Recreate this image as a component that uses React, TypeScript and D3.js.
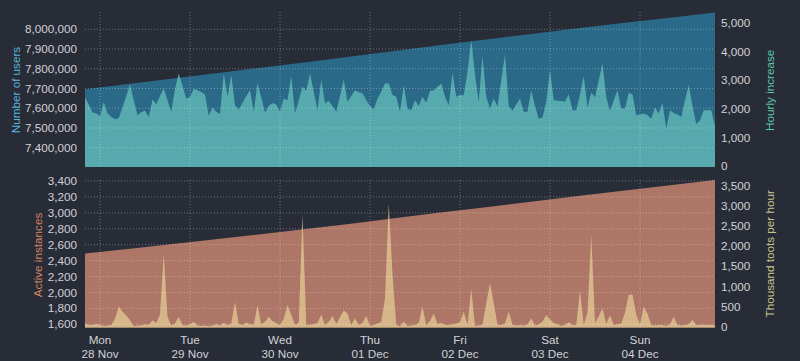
import React from 'react';
import * as d3 from 'd3';

const START = new Date(2022, 10, 27, 20);
const END = new Date(2022, 11, 4, 20);
const HOUR = 3600 * 1000;

// Hourly increase in users (one value per hour, 169 points)
const hourlyIncrease = [
  2400, 2150, 1870, 1850, 1730, 2240, 1850, 1720, 1640, 1680,
  2050, 2450, 2860, 2300, 1780, 1880, 1930, 1720, 2330, 2160,
  2450, 2710, 2300, 1900, 2700, 3230, 2800, 2360, 2400, 2700,
  2650, 2590, 2500, 1760, 2050, 1900, 1820, 3230, 2420, 3180,
  2130, 1980, 2200, 2450, 2650, 1900, 2900, 2400, 1870, 2100,
  2200, 2150, 1900, 2360, 2300, 3140, 1840, 2300, 2770, 2630,
  3230, 2600, 1950, 3020, 2190, 2280, 2100, 1900, 2450, 3020,
  2250, 2450, 2650, 2580, 2540, 2300, 2100, 1980, 2360, 2600,
  2880, 2880, 2480, 2420, 1900, 2830, 2010, 1950, 2300, 2100,
  2420, 2210, 2620, 2650, 2770, 2880, 2420, 2130, 3260, 2420,
  2480, 2470, 3300, 4400, 3200, 2250, 3840, 2420, 2010, 2360,
  2070, 3000, 3900, 2090, 1930, 2150, 2360, 1900, 1900, 2650,
  2100, 1660, 1700, 2250, 3350, 2300, 2280, 2270, 2250, 2510,
  1950, 1950, 2500, 3140, 2050, 2560, 2400, 3000, 3580, 2400,
  1930, 2300, 2650, 2010, 2010, 2560, 2510, 1780, 1800, 1840,
  1780, 1660, 2050, 1840, 2210, 1320, 1950, 1860, 1800, 1720,
  2300, 2830, 2100, 1470, 1600, 1950, 1950, 1950, 1400,
];

// Thousand toots per hour (one value per hour, 169 points)
const tootsThousands = [
  80, 40, 40, 70, 50, 20, 30, 40, 200, 500,
  380, 280, 160, 10, 30, 30, 60, 40, 160, 90,
  300, 1820, 250, 30, 80, 250, 40, 30, 60, 120,
  30, 20, 30, 10, 30, 70, 30, 100, 40, 80,
  620, 70, 40, 110, 60, 50, 540, 60, 120, 250,
  140, 90, 40, 200, 540, 290, 40, 100, 2800, 40,
  50, 70, 90, 300, 40, 120, 270, 70, 240, 400,
  330, 40, 210, 40, 100, 270, 20, 40, 80, 120,
  700, 3060, 1300, 40, 20, 130, 20, 30, 40, 100,
  500, 30, 150, 330, 70, 90, 50, 40, 60, 80,
  110, 380, 40, 950, 20, 30, 50, 580, 1080, 580,
  50, 40, 80, 370, 50, 30, 40, 30, 60, 210,
  30, 60, 130, 290, 180, 90, 60, 20, 50, 110,
  40, 40, 910, 40, 350, 2300, 90, 260, 460, 70,
  290, 40, 60, 80, 350, 790, 790, 300, 50, 500,
  330, 40, 30, 40, 40, 20, 60, 250, 40, 30,
  40, 60, 170, 40, 40, 50, 40, 40, 30,
];

// Number of users, read every 12 hours
const usersEvery12h = [
  7696000, 7724000, 7752000, 7780000, 7808000, 7836000, 7865000, 7894000,
  7923000, 7951000, 7979000, 8006000, 8033000, 8059000, 8085000,
];

// Active instances, read every 12 hours
const instancesEvery12h = [
  2490, 2550, 2612, 2675, 2738, 2803, 2870, 2940, 3010, 3078, 3146, 3214, 3281, 3347, 3413,
];

const usersTicks = [7400000, 7500000, 7600000, 7700000, 7800000, 7900000, 8000000];
const hourlyTicks = [0, 1000, 2000, 3000, 4000, 5000];
const instTicks = [1600, 1800, 2000, 2200, 2400, 2600, 2800, 3000, 3200, 3400];
const tootsTicks = [0, 500, 1000, 1500, 2000, 2500, 3000, 3500];

const C = {
  bg: '#282c37',
  users: '#2a6987',
  hourly: 'rgb(97,186,184)',
  inst: '#ad7666',
  toots: 'rgb(224,197,146)',
  tick: '#d0d2d6',
  usersLabel: '#5ab4dc',
  hourlyLabel: '#5dc8a8',
  instLabel: '#d4845f',
  tootsLabel: '#c8c48c',
  grid: '#ffffff',
};

const FONT = '"Liberation Sans", Arial, sans-serif';
const FS = 11.7;

export default function App() {
  const W = 800, H = 361;
  const left = 85, right = 715;
  const top1 = 12, bot1 = 167;
  const top2 = 180, bot2 = 327.7;

  const x = d3.scaleTime().domain([START, END]).range([left, right]);
  const yUsers = d3.scaleLinear().domain([7300000, 8000000]).range([167.4, 29.3]);
  const yHourly = d3.scaleLinear().domain([0, 5000]).range([166.3, 22.7]);
  const yInst = d3.scaleLinear().domain([1600, 3400]).range([324.3, 181]);
  const yToots = d3.scaleLinear().domain([0, 3500]).range([326.7, 185.7]);

  const hourlyData = hourlyIncrease.map((v, i) => ({ t: new Date(+START + i * HOUR), v }));
  const tootsData = tootsThousands.map((v, i) => ({ t: new Date(+START + i * HOUR), v }));
  const usersData = usersEvery12h.map((v, i) => ({ t: new Date(+START + i * 12 * HOUR), v }));
  const instData = instancesEvery12h.map((v, i) => ({ t: new Date(+START + i * 12 * HOUR), v }));

  type P = { t: Date; v: number };
  const areaUsers = d3.area<P>().x(d => x(d.t)).y0(bot1).y1(d => yUsers(d.v));
  const areaHourly = d3.area<P>().x(d => x(d.t)).y0(bot1).y1(d => yHourly(d.v));
  const areaInst = d3.area<P>().x(d => x(d.t)).y0(bot2).y1(d => yInst(d.v));
  const areaToots = d3.area<P>().x(d => x(d.t)).y0(bot2).y1(d => yToots(d.v));

  const days = d3.timeDay.range(d3.timeDay.ceil(START), END);
  const fmtDay = d3.timeFormat('%a');
  const fmtDate = d3.timeFormat('%d %b');
  const fmtNum = d3.format(',');

  const gridStyle = { stroke: C.grid, strokeOpacity: 0.32, strokeWidth: 1, strokeDasharray: '1,2' };

  return (
    <svg width={W} height={H} style={{ position: 'absolute', left: 0, top: 0, background: C.bg }} fontFamily={FONT}>
      <rect x={0} y={0} width={W} height={H} fill={C.bg} />
      <defs>
        <clipPath id="clip1"><rect x={left} y={top1} width={right - left} height={bot1 - top1} /></clipPath>
        <clipPath id="clip2"><rect x={left} y={top2} width={right - left} height={bot2 - top2} /></clipPath>
      </defs>

      {/* Top panel */}
      <g clipPath="url(#clip1)">
        <path d={areaUsers(usersData) || ''} fill={C.users} />
        <path d={areaHourly(hourlyData) || ''} fill={C.hourly} fillOpacity={0.8} />
      </g>
      {usersTicks.map(t => (
        <line key={'gu' + t} x1={left} x2={right} y1={yUsers(t)} y2={yUsers(t)} style={gridStyle} />
      ))}
      {days.map(d => (
        <line key={'gv1' + +d} x1={x(d)} x2={x(d)} y1={top1} y2={bot1} style={gridStyle} />
      ))}

      {/* Bottom panel */}
      <g clipPath="url(#clip2)">
        <path d={areaInst(instData) || ''} fill={C.inst} />
        <path d={areaToots(tootsData) || ''} fill={C.toots} fillOpacity={0.8} />
      </g>
      {instTicks.map(t => (
        <line key={'gi' + t} x1={left} x2={right} y1={yInst(t)} y2={yInst(t)} style={gridStyle} />
      ))}
      {days.map(d => (
        <line key={'gv2' + +d} x1={x(d)} x2={x(d)} y1={top2} y2={bot2} style={gridStyle} />
      ))}

      {/* Tick labels */}
      <g fontSize={FS} fill={C.tick}>
        {usersTicks.map(t => (
          <text key={'tu' + t} x={77} y={yUsers(t)} dy="0.35em" textAnchor="end">{fmtNum(t)}</text>
        ))}
        {hourlyTicks.map(t => (
          <text key={'th' + t} x={721} y={yHourly(t)} dy="0.35em" textAnchor="start">{fmtNum(t)}</text>
        ))}
        {instTicks.map(t => (
          <text key={'ti' + t} x={77} y={yInst(t)} dy="0.35em" textAnchor="end">{fmtNum(t)}</text>
        ))}
        {tootsTicks.map(t => (
          <text key={'tt' + t} x={721} y={yToots(t)} dy="0.35em" textAnchor="start">{fmtNum(t)}</text>
        ))}
        {days.map(d => (
          <g key={'xl' + +d}>
            <text x={x(d)} y={344} textAnchor="middle">{fmtDay(d)}</text>
            <text x={x(d)} y={357.5} textAnchor="middle">{fmtDate(d)}</text>
          </g>
        ))}
      </g>

      {/* Axis titles */}
      <g fontSize={FS}>
        <text transform="translate(16,90) rotate(-90)" dy="0.35em" textAnchor="middle" fill={C.usersLabel}>Number of users</text>
        <text transform="translate(37.7,255) rotate(-90)" dy="0.35em" textAnchor="middle" fill={C.instLabel}>Active instances</text>
        <text transform="translate(770.3,90.3) rotate(-90)" dy="0.35em" textAnchor="middle" fill={C.hourlyLabel}>Hourly increase</text>
        <text transform="translate(770,253.8) rotate(-90)" dy="0.35em" textAnchor="middle" fill={C.tootsLabel}>Thousand toots per hour</text>
      </g>
    </svg>
  );
}
